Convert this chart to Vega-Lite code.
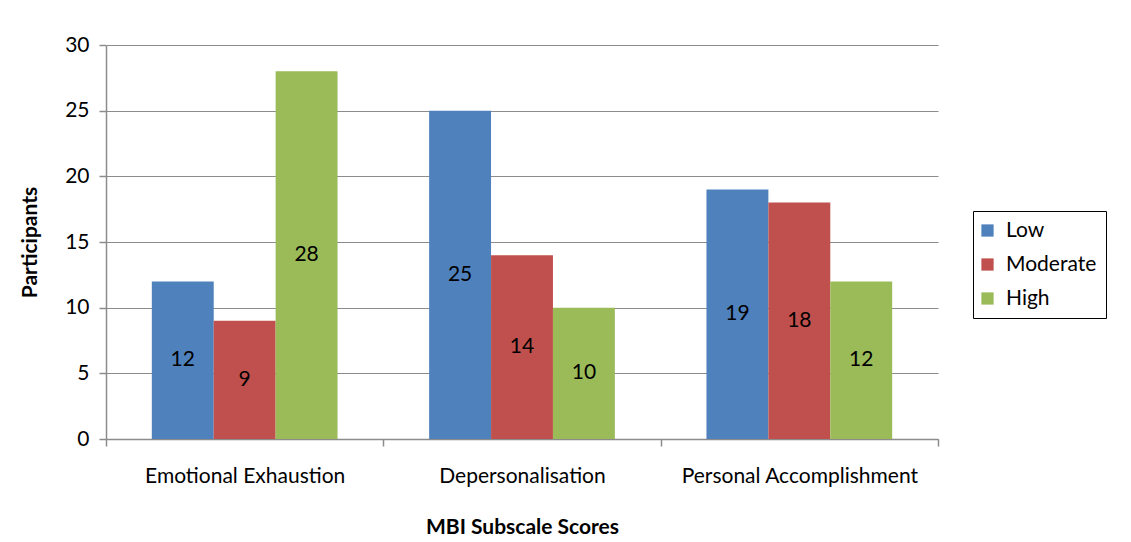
{
  "$schema": "https://vega.github.io/schema/vega-lite/v6.json",
  "width": 832,
  "height": 394,
  "autosize": {"type": "none"},
  "padding": {"left": 106, "top": 45, "right": 193, "bottom": 103},
  "background": "white",
  "config": {
    "font": "Lato",
    "view": {"stroke": null},
    "axis": {"labelFont": "Lato", "titleFont": "Lato", "labelColor": "#000000", "titleColor": "#000000"}
  },
  "data": {
    "values": [
      {"subscale": "Emotional Exhaustion", "level": "Low", "value": 12},
      {"subscale": "Emotional Exhaustion", "level": "Moderate", "value": 9},
      {"subscale": "Emotional Exhaustion", "level": "High", "value": 28},
      {"subscale": "Depersonalisation", "level": "Low", "value": 25},
      {"subscale": "Depersonalisation", "level": "Moderate", "value": 14},
      {"subscale": "Depersonalisation", "level": "High", "value": 10},
      {"subscale": "Personal Accomplishment", "level": "Low", "value": 19},
      {"subscale": "Personal Accomplishment", "level": "Moderate", "value": 18},
      {"subscale": "Personal Accomplishment", "level": "High", "value": 12}
    ]
  },
  "encoding": {
    "x": {
      "field": "subscale",
      "type": "nominal",
      "sort": ["Emotional Exhaustion", "Depersonalisation", "Personal Accomplishment"],
      "scale": {"paddingInner": 0, "paddingOuter": 0},
      "axis": {
        "title": "MBI Subscale Scores",
        "titleFontSize": 21,
        "titleFontWeight": "bold",
        "titlePadding": 30,
        "labelAngle": 0,
        "labelFontSize": 21,
        "labelLimit": 0,
        "labelPadding": 19,
        "tickBand": "extent",
        "tickSize": 7,
        "tickColor": "#8c8c8c",
        "domainColor": "#8c8c8c",
        "domainWidth": 1.5,
        "tickWidth": 1.5,
        "grid": false
      }
    },
    "xOffset": {
      "field": "level",
      "type": "nominal",
      "sort": ["Low", "Moderate", "High"],
      "scale": {"paddingInner": 0, "paddingOuter": 0.74}
    }
  },
  "layer": [
    {
      "mark": {"type": "bar"},
      "encoding": {
        "y": {
          "field": "value",
          "type": "quantitative",
          "scale": {"domain": [0, 30], "nice": false},
          "axis": {
            "title": "Participants",
            "titleFontSize": 21,
            "titleFontWeight": "bold",
            "titlePadding": 24,
            "values": [0, 5, 10, 15, 20, 25, 30],
            "labelFontSize": 21,
            "labelPadding": 10,
            "tickSize": 7,
            "tickColor": "#8c8c8c",
            "tickWidth": 1.5,
            "domainColor": "#8c8c8c",
            "domainWidth": 1.5,
            "gridColor": "#8c8c8c",
            "gridWidth": 1.2
          }
        },
        "color": {
          "field": "level",
          "type": "nominal",
          "sort": ["Low", "Moderate", "High"],
          "scale": {"domain": ["Low", "Moderate", "High"], "range": ["#4F81BD", "#C0504D", "#9BBB59"]},
          "legend": {
            "title": null,
            "orient": "none",
            "legendX": 867,
            "legendY": 166,
            "strokeColor": "#000000",
            "padding": 9,
            "symbolType": "square",
            "symbolSize": 150,
            "symbolStrokeWidth": 0,
            "symbolOffset": -5,
            "labelFontSize": 21,
            "labelFont": "Lato",
            "labelColor": "#000000",
            "rowPadding": 12,
            "labelOffset": 8
          }
        }
      }
    },
    {
      "mark": {"type": "text", "fontSize": 21, "color": "#000000", "baseline": "middle", "align": "center"},
      "encoding": {
        "y": {
          "field": "value",
          "type": "quantitative",
          "scale": {"domain": [0, 60], "nice": false},
          "axis": null
        },
        "text": {"field": "value", "type": "quantitative"}
      }
    }
  ],
  "resolve": {"scale": {"y": "independent"}}
}
